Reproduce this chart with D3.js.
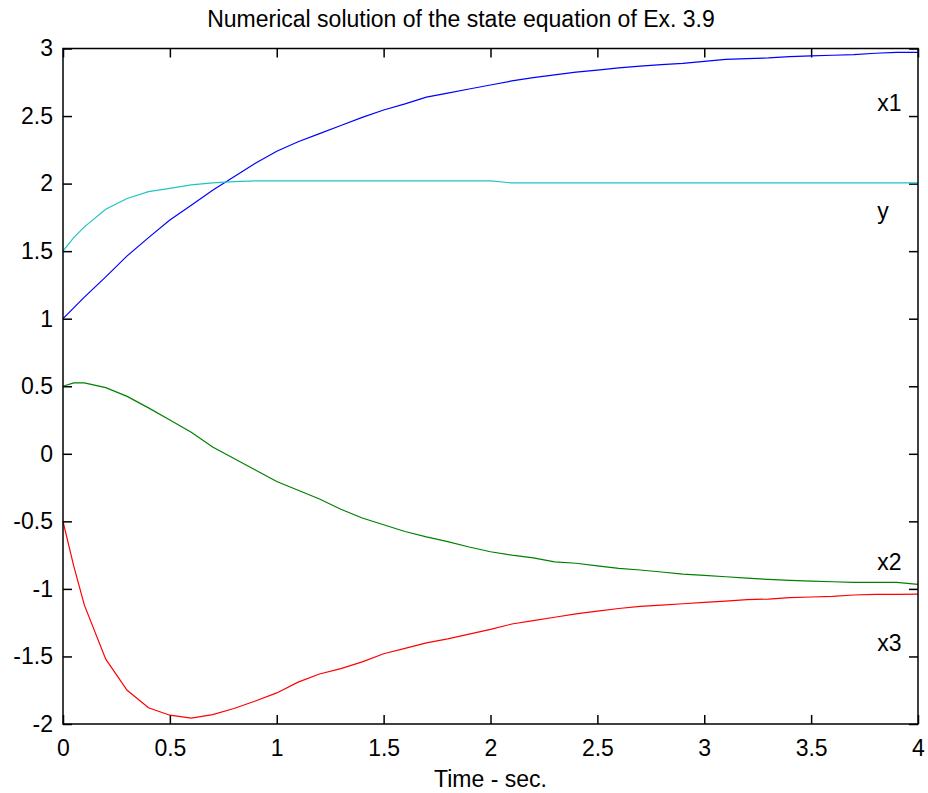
<!DOCTYPE html>
<html>
<head>
<meta charset="utf-8">
<script src="https://cdn.jsdelivr.net/npm/d3@7"></script>
<style>
  body { margin: 0; background: #fff; }
  text { font-family: "Liberation Sans", Arial, sans-serif; }
</style>
</head>
<body>
<svg id="chart" width="928" height="793"></svg>
<script>
// donnees
var temps = [0, 0.05, 0.1, 0.2, 0.3, 0.4, 0.5, 0.6, 0.7, 0.8, 0.9, 1.0,
  1.1, 1.2, 1.3, 1.4, 1.5, 1.6, 1.7, 1.8, 1.9, 2.0,
  2.1, 2.2, 2.3, 2.4, 2.5, 2.6, 2.7, 2.8, 2.9, 3.0,
  3.1, 3.2, 3.3, 3.4, 3.5, 3.6, 3.7, 3.8, 3.9, 4.0];

var x1 = [1.0, 1.08, 1.16, 1.31, 1.465, 1.60, 1.73, 1.84, 1.95, 2.05, 2.15, 2.24,
  2.31, 2.37, 2.43, 2.49, 2.545, 2.59, 2.64, 2.67, 2.70, 2.73,
  2.76, 2.785, 2.805, 2.825, 2.84, 2.857, 2.87, 2.88, 2.89, 2.905,
  2.92, 2.925, 2.93, 2.94, 2.945, 2.95, 2.955, 2.965, 2.972, 2.972];

var x2 = [0.50, 0.525, 0.525, 0.49, 0.425, 0.34, 0.25, 0.16, 0.05, -0.035, -0.12, -0.205,
  -0.27, -0.335, -0.41, -0.475, -0.525, -0.575, -0.615, -0.65, -0.69, -0.725,
  -0.75, -0.77, -0.80, -0.81, -0.83, -0.848, -0.86, -0.875, -0.89, -0.90,
  -0.91, -0.92, -0.93, -0.937, -0.942, -0.947, -0.951, -0.951, -0.951, -0.966];

var x3 = [-0.5, -0.83, -1.12, -1.52, -1.75, -1.88, -1.935, -1.956, -1.93, -1.885, -1.83, -1.77,
  -1.69, -1.63, -1.59, -1.54, -1.48, -1.44, -1.40, -1.37, -1.335, -1.30,
  -1.26, -1.235, -1.21, -1.185, -1.165, -1.145, -1.13, -1.12, -1.11, -1.10,
  -1.09, -1.08, -1.075, -1.065, -1.06, -1.055, -1.045, -1.04, -1.04, -1.038];

var ysortie = [1.5, 1.6, 1.68, 1.81, 1.89, 1.94, 1.965, 1.99, 2.005, 2.015, 2.02, 2.02,
  2.02, 2.02, 2.02, 2.02, 2.02, 2.02, 2.02, 2.02, 2.02, 2.02,
  2.005, 2.005, 2.005, 2.005, 2.005, 2.005, 2.005, 2.005, 2.005, 2.005,
  2.005, 2.005, 2.005, 2.005, 2.005, 2.005, 2.005, 2.005, 2.005, 2.005];

var noms = ["x1", "y", "x2", "x3"];
var couleurs = ["#0000ff", "#21c4c4", "#008000", "#ff0000"];
// position des etiquettes (en coordonnees des donnees)
var etiqT = [3.8, 3.8, 3.8, 3.8];
var etiqV = [2.6, 1.8, -0.8, -1.4];

var xTicks = [0, 0.5, 1, 1.5, 2, 2.5, 3, 3.5, 4];
var yTicks = [-2, -1.5, -1, -0.5, 0, 0.5, 1, 1.5, 2, 2.5, 3];

var titre = "Numerical solution of the state equation of Ex. 3.9";
var xTitre = "Time - sec.";

var series = [x1, ysortie, x2, x3];

var margin = { top: 48.5, right: 10, bottom: 69, left: 63 },
  width = 928 - margin.left - margin.right,
  height = 793 - margin.top - margin.bottom;

var svg = d3.select("#chart")
  .append("g")
  .attr("transform", "translate(" + margin.left + "," + margin.top + ")");

var x = d3.scaleLinear().domain([0, 4]).range([0, width]);
var y = d3.scaleLinear().domain([-2, 3]).range([height, 0]);

var fs = "23px";
// tiret simple comme dans la figure d'origine
var fmt = function (d) { return String(d); };

// axes (graduations vers l'interieur)
var gB = svg.append("g")
  .attr("transform", "translate(0," + height + ")")
  .call(d3.axisBottom(x).tickValues(xTicks).tickSize(-9).tickSizeOuter(0).tickPadding(16)
    .tickFormat(fmt));
var gL = svg.append("g")
  .call(d3.axisLeft(y).tickValues(yTicks).tickSize(-9).tickSizeOuter(0).tickPadding(10)
    .tickFormat(fmt));
var gT = svg.append("g")
  .call(d3.axisTop(x).tickValues(xTicks).tickSize(-9).tickSizeOuter(0).tickFormat(""));
var gR = svg.append("g")
  .attr("transform", "translate(" + width + ",0)")
  .call(d3.axisRight(y).tickValues(yTicks).tickSize(-9).tickSizeOuter(0).tickFormat(""));

[gB, gL, gT, gR].forEach(function (g) {
  g.select(".domain").remove();
  g.selectAll("line").attr("stroke", "#000").attr("stroke-width", 1.5);
  g.selectAll("text")
    .style("font-size", fs)
    .style("font-family", "'Liberation Sans', Arial, sans-serif")
    .attr("fill", "#000");
});

// courbes
var ligne = d3.line()
  .x(function (d) { return x(d[0]); })
  .y(function (d) { return y(d[1]); });

series.forEach(function (s, k) {
  svg.append("path")
    .datum(temps.map(function (t, i) { return [t, s[i]]; }))
    .attr("fill", "none")
    .attr("stroke", couleurs[k])
    .attr("stroke-width", 1.2)
    .attr("d", ligne);
});

// cadre
svg.append("rect")
  .attr("x", 0)
  .attr("y", 0)
  .attr("width", width)
  .attr("height", height)
  .attr("fill", "none")
  .attr("stroke", "#000")
  .attr("stroke-width", 1.5);

// etiquettes des courbes
svg.selectAll(".etiq")
  .data(noms)
  .enter()
  .append("text")
  .attr("class", "etiq")
  .attr("x", function (d, i) { return x(etiqT[i]) + 2; })
  .attr("y", function (d, i) { return y(etiqV[i]); })
  .attr("dy", "0.35em")
  .style("font-size", fs)
  .text(function (d) { return d; });

// titres
d3.select("#chart").append("text")
  .attr("x", 461)
  .attr("y", 27)
  .attr("text-anchor", "middle")
  .style("font-size", fs)
  .text(titre);

d3.select("#chart").append("text")
  .attr("x", margin.left + width / 2)
  .attr("y", 787)
  .attr("text-anchor", "middle")
  .style("font-size", fs)
  .text(xTitre);
</script>
</body>
</html>
